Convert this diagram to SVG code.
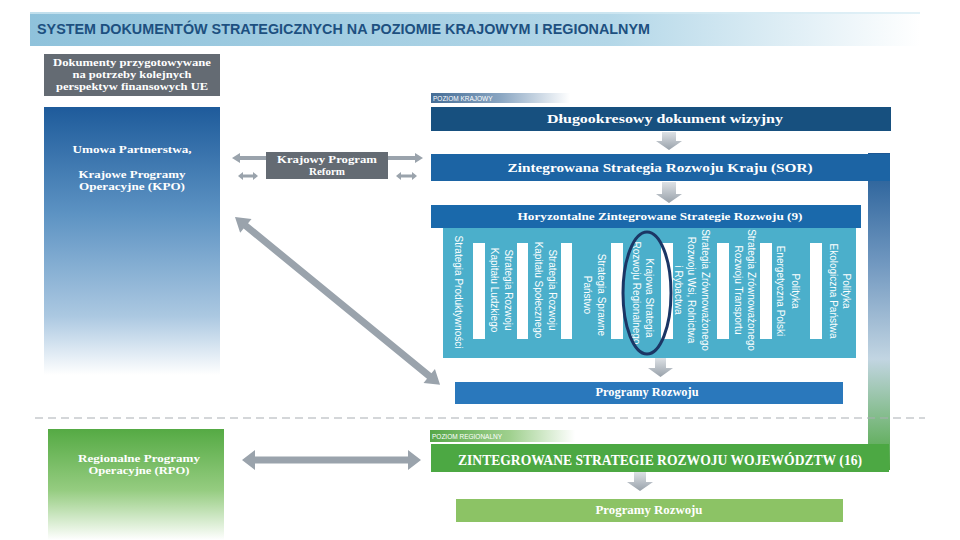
<svg xmlns="http://www.w3.org/2000/svg" width="960" height="540" viewBox="0 0 960 540">
<defs>
<linearGradient id="gTitle" x1="0" y1="0" x2="1" y2="0"><stop offset="0" stop-color="#8fc2db"/><stop offset="0.65" stop-color="#b3d7e8"/><stop offset="1" stop-color="#ffffff"/></linearGradient>
<linearGradient id="gKPO" x1="0" y1="0" x2="0" y2="1"><stop offset="0" stop-color="#1e5b9b"/><stop offset="0.4" stop-color="#5d93c3"/><stop offset="0.78" stop-color="#abc8e1"/><stop offset="1" stop-color="#ffffff"/></linearGradient>
<linearGradient id="gRPO" x1="0" y1="0" x2="0" y2="1"><stop offset="0" stop-color="#55aa44"/><stop offset="0.55" stop-color="#95cc80"/><stop offset="1" stop-color="#ffffff"/></linearGradient>
<linearGradient id="gTabK" x1="0" y1="0" x2="1" y2="0"><stop offset="0" stop-color="#456d96"/><stop offset="0.5" stop-color="#8aa6c2"/><stop offset="1" stop-color="#ffffff"/></linearGradient>
<linearGradient id="gTabR" x1="0" y1="0" x2="1" y2="0"><stop offset="0" stop-color="#56a748"/><stop offset="0.55" stop-color="#9fd08e"/><stop offset="1" stop-color="#ffffff"/></linearGradient>
<linearGradient id="gSide" x1="0" y1="0" x2="0" y2="1"><stop offset="0" stop-color="#1c5793"/><stop offset="0.35" stop-color="#7198c0"/><stop offset="0.65" stop-color="#c2d5e2"/><stop offset="1" stop-color="#4aa53c"/></linearGradient>
<linearGradient id="gDown" x1="0" y1="0" x2="0" y2="1"><stop offset="0" stop-color="#dde1e5"/><stop offset="1" stop-color="#98a1aa"/></linearGradient>
<style>
.sf{font-family:"Liberation Serif","DejaVu Serif",serif;font-weight:bold;fill:#ffffff;text-anchor:middle}
.vt{font-family:"Liberation Sans","DejaVu Sans",sans-serif;font-size:10px;fill:#ffffff;text-anchor:middle;dominant-baseline:central}
.tab{font-family:"Liberation Sans","DejaVu Sans",sans-serif;font-size:6.5px;fill:#ffffff}
.bar{fill:#ffffff}
.arr{fill:#9aa3ac}
.down{fill:url(#gDown)}
</style>
</defs>
<rect width="960" height="540" fill="#ffffff"/>

<g id="title">
<rect x="30" y="12" width="890" height="34" fill="url(#gTitle)"/>
<rect x="30" y="12" width="890" height="2" fill="#d6ebf4" opacity="0.7"/>
<text x="37" y="34" font-family="'Liberation Sans Narrow','Liberation Sans',sans-serif" font-weight="bold" font-size="14" fill="#1d5080" textLength="613" lengthAdjust="spacingAndGlyphs">SYSTEM DOKUMENTÓW STRATEGICZNYCH NA POZIOMIE KRAJOWYM I REGIONALNYM</text>
</g>

<g id="side-bar">
<rect x="868" y="153" width="22" height="317" fill="url(#gSide)"/>
</g>

<g id="dokumenty">
<rect x="44" y="54" width="176" height="42" fill="#646b73"/>
<text class="sf" x="132" y="66" font-size="11" textLength="158" lengthAdjust="spacingAndGlyphs">Dokumenty przygotowywane</text>
<text class="sf" x="132" y="78" font-size="11" textLength="119" lengthAdjust="spacingAndGlyphs">na potrzeby kolejnych</text>
<text class="sf" x="132" y="90" font-size="11" textLength="152" lengthAdjust="spacingAndGlyphs">perspektyw finansowych UE</text>
</g>

<g id="kpo">
<rect x="44" y="107" width="176" height="268" fill="url(#gKPO)"/>
<text class="sf" x="132" y="153" font-size="11" textLength="119" lengthAdjust="spacingAndGlyphs">Umowa Partnerstwa,</text>
<text class="sf" x="132" y="178" font-size="11" textLength="107" lengthAdjust="spacingAndGlyphs">Krajowe Programy</text>
<text class="sf" x="132" y="190" font-size="11" textLength="106" lengthAdjust="spacingAndGlyphs">Operacyjne (KPO)</text>
</g>

<g id="kpr">
<rect x="266" y="152" width="122" height="27" fill="#646b73"/>
<text class="sf" x="327" y="163" font-size="11" textLength="100" lengthAdjust="spacingAndGlyphs">Krajowy Program</text>
<text class="sf" x="327" y="175" font-size="11">Reform</text>
</g>

<g id="rpo">
<rect x="48" y="429" width="176" height="111" fill="url(#gRPO)"/>
<text class="sf" x="139" y="462" font-size="11" textLength="122" lengthAdjust="spacingAndGlyphs">Regionalne Programy</text>
<text class="sf" x="139" y="474" font-size="11" textLength="101" lengthAdjust="spacingAndGlyphs">Operacyjne (RPO)</text>
</g>

<g id="poziom-krajowy">
<rect x="431" y="93" width="139" height="10" fill="url(#gTabK)"/>
<text class="tab" x="433" y="100.5">POZIOM KRAJOWY</text>
</g>

<g id="wizja">
<rect x="431" y="107" width="460" height="24" fill="#17507f"/>
<text class="sf" x="665" y="123" font-size="13" textLength="236" lengthAdjust="spacingAndGlyphs">Długookresowy dokument wizyjny</text>
</g>

<g id="sor">
<rect x="431" y="154" width="459" height="27" fill="#1c64a4"/>
<text class="sf" x="660" y="172" font-size="13" textLength="305" lengthAdjust="spacingAndGlyphs">Zintegrowana Strategia Rozwoju Kraju (SOR)</text>
</g>

<g id="horyzontalne">
<rect x="431" y="205" width="430" height="23" fill="#1a69ab"/>
<text class="sf" x="660" y="220" font-size="11" textLength="285" lengthAdjust="spacingAndGlyphs">Horyzontalne Zintegrowane Strategie Rozwoju (9)</text>
</g>

<g id="strategie">
<rect x="443" y="228" width="413" height="130" fill="#4bafcb"/>
<rect class="bar" x="473" y="243" width="12" height="96"/>
<rect class="bar" x="517" y="243" width="11" height="96"/>
<rect class="bar" x="561" y="243" width="11" height="96"/>
<rect class="bar" x="611" y="243" width="12" height="96"/>
<rect class="bar" x="661" y="243" width="12" height="96"/>
<rect class="bar" x="717" y="243" width="12" height="96"/>
<rect class="bar" x="760" y="243" width="12" height="96"/>
<rect class="bar" x="810" y="243" width="12" height="96"/>
<text class="vt" transform="translate(458,292) rotate(90)">Strategia Produktywności</text>
<text class="vt" transform="translate(508,290) rotate(90)">Strategia Rozwoju</text>
<text class="vt" transform="translate(494,290) rotate(90)">Kapitału Ludzkiego</text>
<text class="vt" transform="translate(552,290) rotate(90)">Strategia Rozwoju</text>
<text class="vt" transform="translate(538,290) rotate(90)">Kapitału Społecznego</text>
<text class="vt" transform="translate(601,295) rotate(90)">Strategia Sprawne</text>
<text class="vt" transform="translate(587,295) rotate(90)">Państwo</text>
<text class="vt" transform="translate(649,298) rotate(90)">Krajowa Strategia</text>
<text class="vt" transform="translate(636,293) rotate(90)">Rozwoju Regionalnego</text>
<text class="vt" transform="translate(705,290) rotate(90)">Strategia Zrównoważonego</text>
<text class="vt" transform="translate(691,290) rotate(90)">Rozwoju Wsi, Rolnictwa</text>
<text class="vt" transform="translate(678,290) rotate(90)">i Rybactwa</text>
<text class="vt" transform="translate(751,290) rotate(90)">Strategia Zrównoważonego</text>
<text class="vt" transform="translate(738,290) rotate(90)">Rozwoju Transportu</text>
<text class="vt" transform="translate(795,291) rotate(90)">Polityka</text>
<text class="vt" transform="translate(780,291) rotate(90)">Energetyczna Polski</text>
<text class="vt" transform="translate(846,291) rotate(90)">Polityka</text>
<text class="vt" transform="translate(833,291) rotate(90)">Ekologiczna Państwa</text>
<ellipse cx="647" cy="293" rx="24" ry="61" fill="none" stroke="#1b3665" stroke-width="3"/>
</g>

<g id="programy-krajowe">
<rect x="455" y="382" width="388" height="22" fill="#2a78bc"/>
<text class="sf" x="647" y="396" font-size="11.5" textLength="103" lengthAdjust="spacingAndGlyphs">Programy Rozwoju</text>
</g>

<g id="poziom-regionalny">
<rect x="430" y="430" width="145" height="12" fill="url(#gTabR)"/>
<text class="tab" x="432" y="438.5">POZIOM REGIONALNY</text>
</g>

<g id="zsrw">
<rect x="431" y="444" width="458" height="28" fill="#4ca843"/>
<text class="sf" x="660" y="465" font-size="14" textLength="404" lengthAdjust="spacingAndGlyphs">ZINTEGROWANE STRATEGIE ROZWOJU WOJEWÓDZTW (16)</text>
</g>

<g id="programy-regionalne">
<rect x="456" y="499" width="387" height="23" fill="#8cc365"/>
<text class="sf" x="649" y="514" font-size="11.5" textLength="107" lengthAdjust="spacingAndGlyphs">Programy Rozwoju</text>
</g>

<g id="connectors">
<line x1="35" y1="418" x2="925" y2="418" stroke="#a9aeb3" stroke-width="1" stroke-dasharray="8 5"/>
<polygon class="down" points="662,132 676,132 676,141 682,141 669,150 656,141 662,141"/>
<polygon class="down" points="662,182 676,182 676,194 682,194 669,203 656,194 662,194"/>
<polygon class="down" points="655,358 666,358 666,368 673,368 660.5,377 648,368 655,368"/>
<polygon class="down" points="634,472 646,472 646,482 653,482 640,491 627,482 634,482"/>
<polygon class="arr" points="232,158 240,153 240,156 266,156 266,160 240,160 240,163"/>
<polygon class="arr" points="423,158 415,153 415,156 388,156 388,160 415,160 415,163"/>
<polygon class="arr" points="238,176 243,172 243,174.5 253,174.5 253,172 258,176 253,180 253,177.5 243,177.5 243,180"/>
<polygon class="arr" points="396,176 401,172 401,174.5 412,174.5 412,172 417,176 412,180 412,177.5 401,177.5 401,180"/>
<polygon class="arr" points="242,460 255,450 255,456.5 408,456.5 408,450 421,460 408,470 408,463.5 255,463.5 255,470"/>
<polygon class="arr" transform="translate(235,217) rotate(39.3)" points="0,0 14,-9 14,-3.5 251,-3.5 251,-9 265,0 251,9 251,3.5 14,3.5 14,9"/>
</g>
</svg>
